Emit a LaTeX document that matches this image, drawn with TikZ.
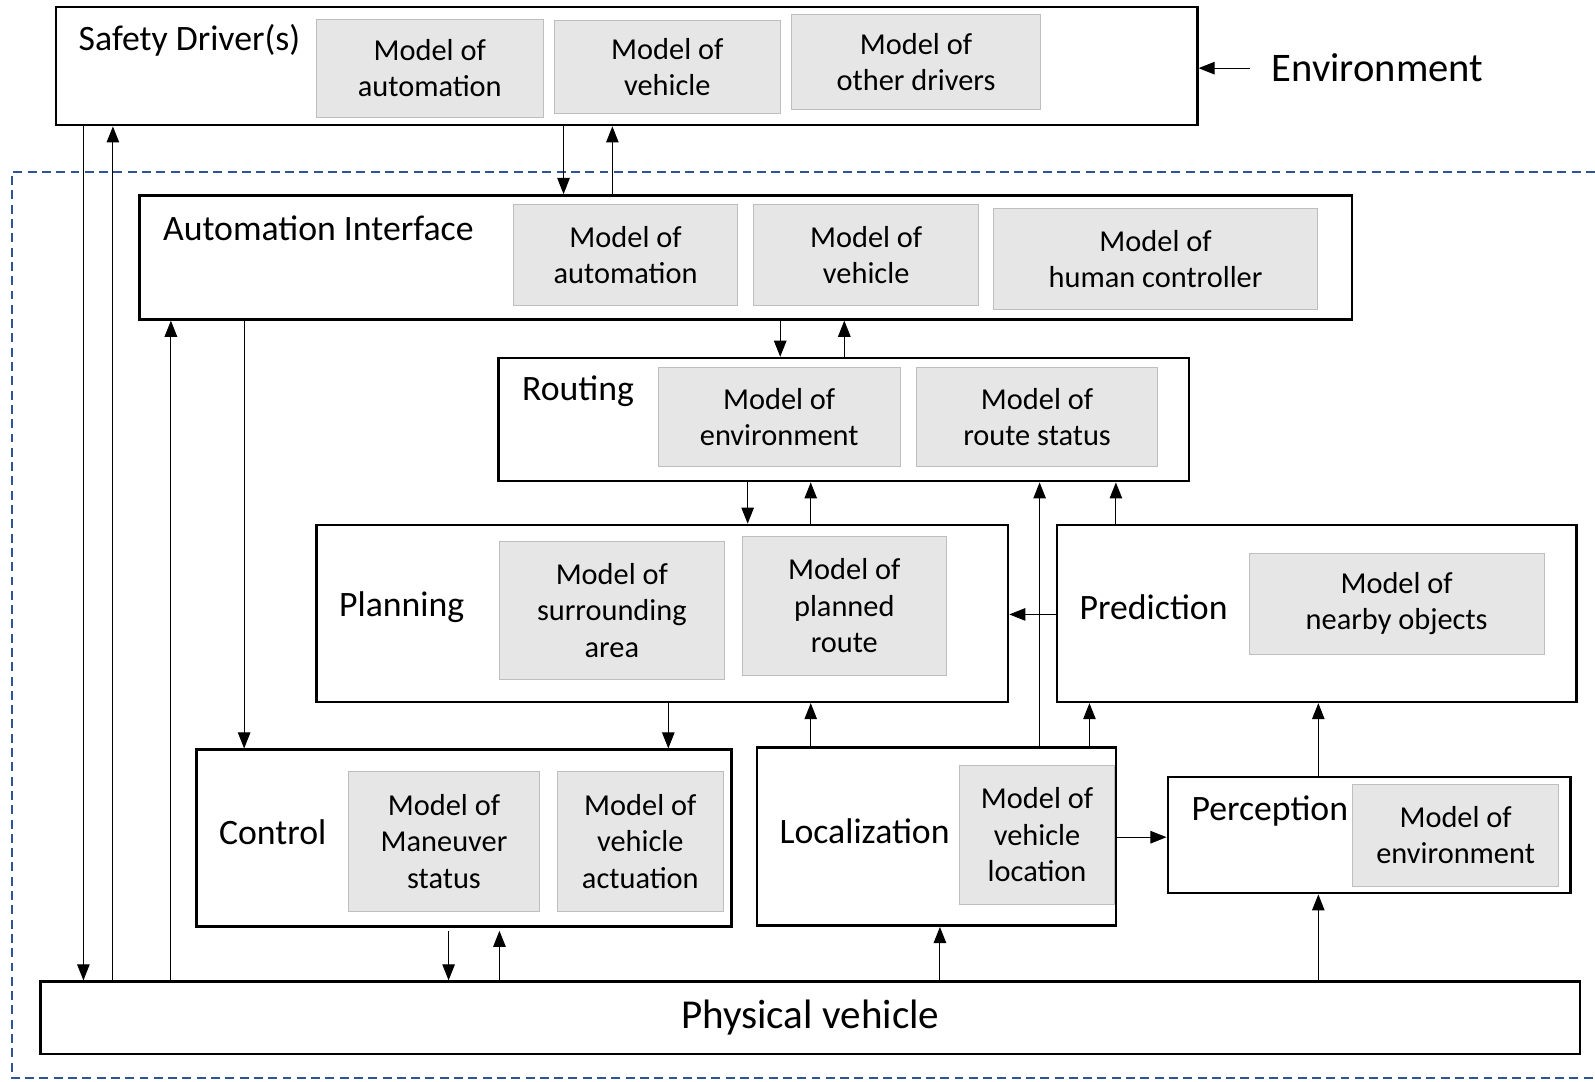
\documentclass[tikz,border=0pt]{standalone}
\usepackage{fontspec}
\setmainfont{Carlito}
\usepackage{tikz}
\usetikzlibrary{arrows.meta, fit, positioning}
\definecolor{modelfill}{RGB}{230,230,230}
\definecolor{modeldraw}{RGB}{190,190,190}
\definecolor{bordblue}{RGB}{47,84,150}
\tikzset{
>={Triangle[length=9pt,width=7pt]}, % filled triangle heads
flow/.style={->, line width=0.6pt}, % plain connector between blocks
}

\begin{document}
\begin{tikzpicture}[
  x=0.02cm, y=-0.02cm,
  block/.style={draw, line width=1.4pt, inner sep=0pt},
  model/.style={draw=modeldraw, fill=modelfill, line width=0.5pt, inner sep=0pt},
  mtext/.style={align=center, inner sep=0pt, font=\fontsize{17}{20.4}\selectfont},
  lbl/.style={anchor=west, inner sep=0pt, font=\fontsize{20}{24}\selectfont},
  border/.style={draw=bordblue, line width=1.2pt, dash pattern=on 5pt off 3pt}
]
  \useasboundingbox (0,0) rectangle (1568,1063);

  % automated system boundary
  \draw[border] (1568,169) -- (12,169) -- (12,1060) -- (1568,1060);

  % safety driver
  \node[block, fit={(55,7) (1177,123)}] (safety) {};
  \node[lbl] (safetylbl) at (77,40) {Safety Driver(s)};
  \node[model, fit={(311,19) (534,115)}] (sdauto) {};
  \node[mtext] at (sdauto) {Model of\\automation};
  \node[model, fit={(545,20) (767,112)}] (sdveh) {};
  \node[mtext] at (sdveh) {Model of\\vehicle};
  \node[model, fit={(778,14) (1023,108)}] (sdother) {};
  \node[mtext] at (sdother) {Model of\\other drivers};
  \node[anchor=west, inner sep=0pt, font=\fontsize{22.7}{27}\selectfont] (env) at (1250,67) {Environment};

  % automation interface
  \node[block, fit={(137,192) (1329,314)}] (ai) {};
  \node[lbl] (ailbl) at (160,224) {Automation Interface};
  \node[model, fit={(505,201) (725,300)}] (aiauto) {};
  \node[mtext] at (aiauto) {Model of\\automation};
  \node[model, fit={(741,201) (962,300)}] (aiveh) {};
  \node[mtext] at (aiveh) {Model of\\vehicle};
  \node[model, fit={(977,205) (1295,304)}] (aihuman) {};
  \node[mtext] at (aihuman) {Model of\\human controller};

  % routing
  \node[block, fit={(490,352) (1169,473)}] (rt) {};
  \node[lbl] (rtlbl) at (513,385) {Routing};
  \node[model, fit={(647,361) (885,459)}] (rtenv) {};
  \node[mtext] at (rtenv) {Model of\\environment};
  \node[model, fit={(901,361) (1138,459)}] (rtstatus) {};
  \node[mtext] at (rtstatus) {Model of\\route status};

  % planning
  \node[block, fit={(311,516) (991,690)}] (pl) {};
  \node[lbl] (pllbl) at (333,597) {Planning};
  \node[model, fit={(491,532) (712,668)}] (plarea) {};
  \node[mtext] at (plarea) {Model of\\surrounding\\area};
  \node[model, fit={(730,527) (930,664)}] (plroute) {};
  \node[mtext] at (plroute) {Model of\\planned\\route};

  % prediction
  \node[block, fit={(1039,516) (1550,690)}] (pred) {};
  \node[lbl] (predlbl) at (1061,597) {Prediction};
  \node[model, fit={(1228,544) (1518,643)}] (prednear) {};
  \node[mtext] at (prednear) {Model of\\nearby objects};

  % control
  \node[block, fit={(193,737) (719,911)}] (ctrl) {};
  \node[lbl] (ctrllbl) at (215,818) {Control};
  \node[model, fit={(343,758) (530,896)}] (ctrlman) {};
  \node[mtext] at (ctrlman) {Model of\\Maneuver\\status};
  \node[model, fit={(548,758) (711,896)}] (ctrlact) {};
  \node[mtext] at (ctrlact) {Model of\\vehicle\\actuation};

  % localization
  \node[block, fit={(744,735) (1097,910)}] (loc) {};
  \node[lbl] (loclbl) at (766,817) {Localization};
  \node[model, fit={(943,752) (1096,889)}] (locveh) {};
  \node[mtext] at (locveh) {Model of\\vehicle\\location};

  % perception
  \node[block, fit={(1148,764) (1544,878)}] (perc) {};
  \node[lbl] (perclbl) at (1171,797) {Perception};
  \node[model, fit={(1330,771) (1532,871)}] (percenv) {};
  \node[mtext] at (percenv) {Model of\\environment};

  % physical vehicle
  \node[block, fit={(40,965) (1553,1036)}] (phys) {};
  \node[inner sep=0pt, font=\fontsize{23}{27}\selectfont] (physlbl) at (phys) {Physical vehicle};

  % connectors
  \draw[flow, shorten <=12pt] (env.west) -- (safety.east |- env.west);
  \draw[flow] (82,0 |- safety.south) -- (82,0 |- phys.north);
  \draw[flow] (111,0 |- phys.north) -- (111,0 |- safety.south);
  \draw[flow] (168,0 |- phys.north) -- (168,0 |- ai.south);
  \draw[flow] (240,0 |- ai.south) -- (240,0 |- ctrl.north);
  \draw[flow] (554,0 |- safety.south) -- (554,0 |- ai.north);
  \draw[flow] (602,0 |- ai.north) -- (602,0 |- safety.south);
  \draw[flow] (767,0 |- ai.south) -- (767,0 |- rt.north);
  \draw[flow] (830,0 |- rt.north) -- (830,0 |- ai.south);
  \draw[flow] (735,0 |- rt.south) -- (735,0 |- pl.north);
  \draw[flow] (797,0 |- pl.north) -- (797,0 |- rt.south);
  \draw[flow] (1022,0 |- loc.north) -- (1022,0 |- rt.south);
  \draw[flow] (1097,0 |- pred.north) -- (1097,0 |- rt.south);
  \draw[flow] (pred.west |- 0,604) -- (pl.east |- 0,604);
  \draw[flow] (657,0 |- pl.south) -- (657,0 |- ctrl.north);
  \draw[flow] (797,0 |- loc.north) -- (797,0 |- pl.south);
  \draw[flow] (1071,0 |- loc.north) -- (1071,0 |- pred.south);
  \draw[flow] (1296,0 |- perc.north) -- (1296,0 |- pred.south);
  \draw[flow] (loc.east |- 0,823) -- (perc.west |- 0,823);
  \draw[flow] (441,915) -- (441,0 |- phys.north);
  \draw[flow] (491,0 |- phys.north) -- (491,915);
  \draw[flow] (924,0 |- phys.north) -- (924,0 |- loc.south);
  \draw[flow] (1296,0 |- phys.north) -- (1296,0 |- perc.south);
\end{tikzpicture}
\end{document}
